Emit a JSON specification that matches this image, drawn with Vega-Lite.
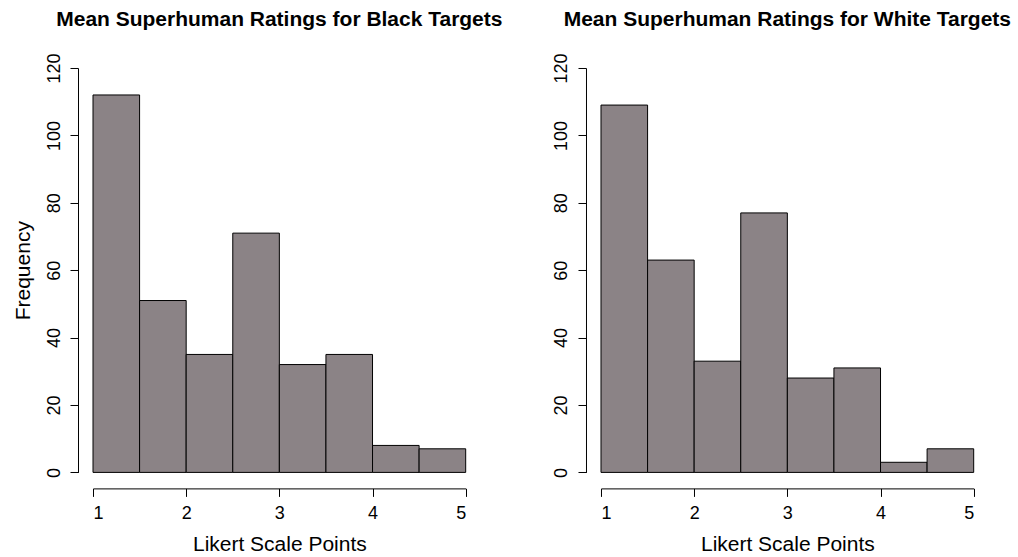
{
  "$schema": "https://vega.github.io/schema/vega-lite/v6.json",
  "background": "white",
  "padding": {"left": 12, "top": 8, "right": 0, "bottom": 0},
  "bounds": "flush",
  "spacing": 135,
  "config": {
    "font": "Liberation Sans",
    "view": {"stroke": null},
    "axis": {
      "grid": false,
      "domainColor": "#000000",
      "tickColor": "#000000",
      "labelColor": "#000000",
      "titleColor": "#000000",
      "labelFont": "Liberation Sans",
      "titleFont": "Liberation Sans",
      "labelFontSize": 18,
      "titleFontSize": 21,
      "titleFontWeight": "normal",
      "tickSize": 8,
      "domainWidth": 1,
      "tickWidth": 1
    },
    "title": {"font": "Liberation Sans", "fontSize": 21, "fontWeight": "bold", "color": "#000000", "anchor": "middle", "frame": "group"}
  },
  "datasets": {
    "hist": [
      {"group": "Black", "bin_start": 1.0, "bin_end": 1.5, "count": 112},
      {"group": "Black", "bin_start": 1.5, "bin_end": 2.0, "count": 51},
      {"group": "Black", "bin_start": 2.0, "bin_end": 2.5, "count": 35},
      {"group": "Black", "bin_start": 2.5, "bin_end": 3.0, "count": 71},
      {"group": "Black", "bin_start": 3.0, "bin_end": 3.5, "count": 32},
      {"group": "Black", "bin_start": 3.5, "bin_end": 4.0, "count": 35},
      {"group": "Black", "bin_start": 4.0, "bin_end": 4.5, "count": 8},
      {"group": "Black", "bin_start": 4.5, "bin_end": 5.0, "count": 7},
      {"group": "White", "bin_start": 1.0, "bin_end": 1.5, "count": 109},
      {"group": "White", "bin_start": 1.5, "bin_end": 2.0, "count": 63},
      {"group": "White", "bin_start": 2.0, "bin_end": 2.5, "count": 33},
      {"group": "White", "bin_start": 2.5, "bin_end": 3.0, "count": 77},
      {"group": "White", "bin_start": 3.0, "bin_end": 3.5, "count": 28},
      {"group": "White", "bin_start": 3.5, "bin_end": 4.0, "count": 31},
      {"group": "White", "bin_start": 4.0, "bin_end": 4.5, "count": 3},
      {"group": "White", "bin_start": 4.5, "bin_end": 5.0, "count": 7}
    ]
  },
  "hconcat": [
    {
      "width": 372.7,
      "height": 404.4,
      "title": {"text": "Mean Superhuman Ratings for Black Targets", "offset": 23},
      "data": {"name": "hist"},
      "transform": [{"filter": "datum.group === 'Black'"}],
      "mark": {"type": "rect", "fill": "#8B8386", "stroke": "#000000", "strokeWidth": 1},
      "encoding": {
        "x": {"field": "bin_start", "type": "quantitative", "scale": {"domain": [1, 5], "nice": false, "zero": false},
              "axis": {"values": [1, 2, 3, 4, 5], "format": "d", "offset": 16, "labelPadding": 8, "title": "Likert Scale Points", "titlePadding": 11}},
        "x2": {"field": "bin_end"},
        "y": {"field": "count", "type": "quantitative", "scale": {"domain": [0, 120], "nice": false},
              "axis": {"values": [0, 20, 40, 60, 80, 100, 120], "offset": 15, "labelAngle": -90, "labelAlign": "center", "labelBaseline": "bottom", "labelPadding": 7, "title": "Frequency", "titlePadding": 12}},
        "y2": {"datum": 0}
      }
    },
    {
      "width": 372.7,
      "height": 404.4,
      "title": {"text": "Mean Superhuman Ratings for White Targets", "offset": 23},
      "data": {"name": "hist"},
      "transform": [{"filter": "datum.group === 'White'"}],
      "mark": {"type": "rect", "fill": "#8B8386", "stroke": "#000000", "strokeWidth": 1},
      "encoding": {
        "x": {"field": "bin_start", "type": "quantitative", "scale": {"domain": [1, 5], "nice": false, "zero": false},
              "axis": {"values": [1, 2, 3, 4, 5], "format": "d", "offset": 16, "labelPadding": 8, "title": "Likert Scale Points", "titlePadding": 11}},
        "x2": {"field": "bin_end"},
        "y": {"field": "count", "type": "quantitative", "scale": {"domain": [0, 120], "nice": false},
              "axis": {"values": [0, 20, 40, 60, 80, 100, 120], "offset": 15, "labelAngle": -90, "labelAlign": "center", "labelBaseline": "bottom", "labelPadding": 7, "title": null}},
        "y2": {"datum": 0}
      }
    }
  ]
}
